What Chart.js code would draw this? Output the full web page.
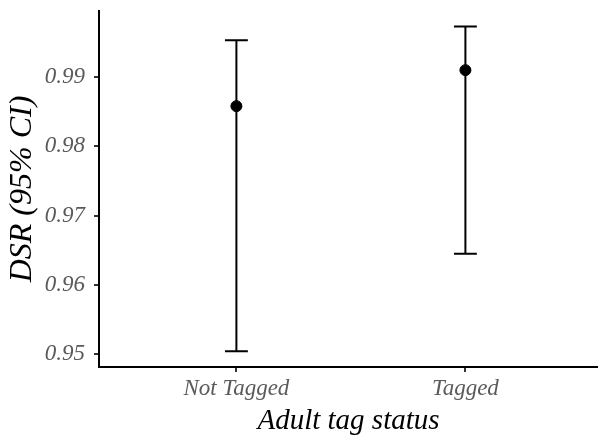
<!DOCTYPE html>
<html>
<head>
<meta charset="utf-8">
<script src="https://cdn.jsdelivr.net/npm/chart.js@4"></script>
<style>
  html, body { margin: 0; padding: 0; background: #fff; overflow: hidden; }
  #wrap { width: 598px; height: 442px; }
</style>
</head>
<body>
<div id="wrap"><canvas id="dsrChart" width="598" height="442"></canvas></div>
<script>
// Data
const categories = ['Not Tagged', 'Tagged'];
const dsrEstimate = [0.9858, 0.9910];
const ciLower = [0.9504, 0.9645];
const ciUpper = [0.9953, 0.9973];
const yTicks = [0.95, 0.96, 0.97, 0.98, 0.99];

const CAP_HALF = 0.05; // half width of the whisker caps, in category units

// draws the CI whiskers behind the points using the chart's own scales
const errorBars = {
    id: 'errorBars',
    beforeDatasetsDraw(chart) {
        const { ctx, scales: { x, y } } = chart;
        ctx.save();
        ctx.strokeStyle = '#000';
        ctx.lineWidth = 2;
        categories.forEach((c, i) => {
            const px = x.getPixelForValue(i);
            const lo = y.getPixelForValue(ciLower[i]);
            const hi = y.getPixelForValue(ciUpper[i]);
            const cl = x.getPixelForValue(i - CAP_HALF);
            const cr = x.getPixelForValue(i + CAP_HALF);
            ctx.beginPath();
            ctx.moveTo(px, lo); ctx.lineTo(px, hi);
            ctx.moveTo(cl, lo); ctx.lineTo(cr, lo);
            ctx.moveTo(cl, hi); ctx.lineTo(cr, hi);
            ctx.stroke();
        });
        ctx.restore();
    }
};

const serif = "'Liberation Serif', 'Times New Roman', serif";
const tickFont = { family: serif, style: 'italic', size: 23 };

// no extra room for overhanging tick labels, the plot fills the window
function noPad(scale) {
    scale.paddingLeft = 0;
    scale.paddingRight = 0;
    scale.paddingTop = 0;
    scale.paddingBottom = 0;
}

new Chart(document.getElementById('dsrChart').getContext('2d'), {
    type: 'scatter',
    data: {
        datasets: [{
            label: 'DSR',
            data: dsrEstimate.map((v, i) => ({ x: i, y: v })),
            backgroundColor: '#000',
            borderColor: '#000',
            pointRadius: 5.5,
            pointHoverRadius: 5.5,
            clip: false
        }]
    },
    plugins: [errorBars],
    options: {
        responsive: false,
        animation: false,
        layout: { autoPadding: false, padding: { left: 0, top: 11, right: 0, bottom: 0 } },
        plugins: {
            legend: { display: false },
            tooltip: { enabled: false }
        },
        scales: {
            x: {
                type: 'linear',
                min: -0.6,
                max: 1.579,
                afterBuildTicks(scale) {
                    scale.ticks = categories.map((c, i) => ({ value: i }));
                },
                afterFit(scale) { scale.height = 75; noPad(scale); },
                ticks: {
                    callback: (v) => categories[v],
                    color: '#5a5a5a',
                    font: tickFont,
                    padding: 3,
                    maxRotation: 0
                },
                grid: { drawOnChartArea: false, drawTicks: true, tickLength: 5, color: '#333', lineWidth: 2 },
                border: { display: true, color: '#000', width: 2 },
                title: {
                    display: true,
                    text: 'Adult tag status',
                    color: '#000',
                    font: { family: serif, style: 'italic', size: 29 },
                    padding: { top: 0, bottom: 3 }
                }
            },
            y: {
                min: 0.94814,
                max: 0.99954,
                afterBuildTicks(scale) {
                    scale.ticks = yTicks.map(v => ({ value: v }));
                },
                afterFit(scale) { scale.width = 99; noPad(scale); },
                ticks: {
                    callback: (v) => v.toFixed(2),
                    color: '#5a5a5a',
                    font: tickFont,
                    padding: 9
                },
                grid: { drawOnChartArea: false, drawTicks: true, tickLength: 5, color: '#333', lineWidth: 2 },
                border: { display: true, color: '#000', width: 2 },
                title: {
                    display: true,
                    text: 'DSR (95% CI)',
                    color: '#000',
                    font: { family: serif, style: 'italic', size: 32 },
                    padding: { top: 3, bottom: 0 }
                }
            }
        }
    }
});
</script>
</body>
</html>
